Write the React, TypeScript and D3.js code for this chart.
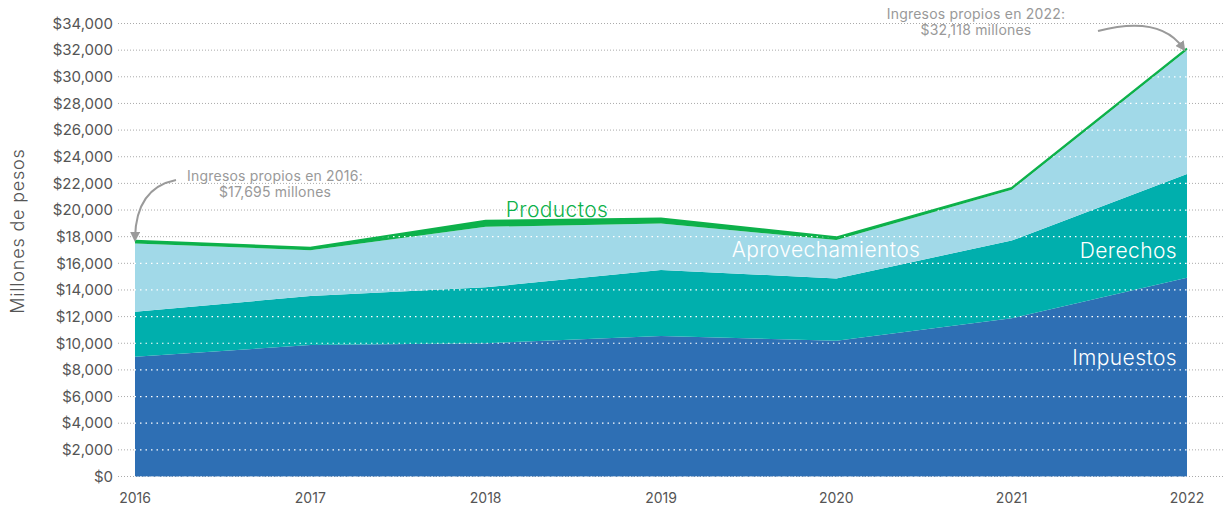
import React from 'react';
import * as d3 from 'd3';

const years = ['2016', '2017', '2018', '2019', '2020', '2021', '2022'];
const impuestos = [8990, 9870, 10000, 10540, 10190, 11870, 14920];
const derechos = [3380, 3675, 4200, 4960, 4680, 5840, 7780];
const aprovechamientos = [5125, 3445, 4540, 3490, 2880, 3820, 9298];
const productos = [200, 180, 450, 380, 200, 120, 120];
const yTicks = d3.range(0, 34001, 2000);

const seriesKeys = ['impuestos', 'derechos', 'aprovechamientos', 'productos'];
const colors: Record<string, string> = {
  impuestos: '#2e6fb4',
  derechos: '#00afad',
  aprovechamientos: '#a1d9e8',
  productos: '#0db14b',
};

const W = 1223;
const H = 508;
const font = 'Inter, "Open Sans", sans-serif';

export default function App() {
  const rows = years.map((y, i) => ({
    year: y,
    impuestos: impuestos[i],
    derechos: derechos[i],
    aprovechamientos: aprovechamientos[i],
    productos: productos[i],
  }));
  const stacked = d3.stack<any>().keys(seriesKeys)(rows);

  const x = d3.scalePoint().domain(years).range([135, 1187]);
  const y = d3.scaleLinear().domain([0, 34000]).range([476.5, 23.5]);

  const area = d3.area<any>()
    .x((d) => x(d.data.year)!)
    .y0((d) => y(d[0]))
    .y1((d) => y(d[1]));

  const totalLine = d3.line<any>()
    .x((d) => x(d.data.year)!)
    .y((d) => y(d[1]));

  const top = stacked[stacked.length - 1];
  const clipArea = d3.area<any>()
    .x((d) => x(d.data.year)!)
    .y0(y(0))
    .y1((d) => y(d[1]))(top);

  const fmt = (v: number) => '$' + d3.format(',')(v);

  const labelStyle = { fontFamily: font, fontSize: 21, fontWeight: 300, letterSpacing: 0.4 };
  const noteStyle = { fontFamily: font, fontSize: 14, fill: '#999', letterSpacing: 0.2 };

  return (
    <svg width={W} height={H} style={{ position: 'absolute', left: 0, top: 0, background: '#fff' }}>
      <defs>
        <clipPath id="areaClip">
          <path d={clipArea || ''} />
        </clipPath>
        <marker id="arrowHead" viewBox="0 0 10 10" refX="6" refY="5" markerWidth="5" markerHeight="5" orient="auto">
          <path d="M0,0 L10,5 L0,10 z" fill="#9a9a9a" />
        </marker>
      </defs>

      {/* gridlines behind */}
      {yTicks.map((t) => (
        <line key={'g' + t} x1={118} x2={W} y1={y(t)} y2={y(t)}
          stroke="#aaa" strokeWidth={1} strokeDasharray="1,2" />
      ))}

      {/* stacked areas */}
      {stacked.map((s) => (
        <path key={s.key} d={area(s) || ''} fill={colors[s.key]} />
      ))}

      {/* white gridlines over the areas */}
      <g clipPath="url(#areaClip)">
        {yTicks.map((t) => (
          <line key={'w' + t} x1={118} x2={W} y1={y(t)} y2={y(t)}
            stroke="#fff" strokeWidth={1.2} strokeDasharray="1.5,4" />
        ))}
      </g>

      <path d={totalLine(top) || ''} fill="none" stroke={colors.productos} strokeWidth={2} />

      {/* y axis labels */}
      {yTicks.map((t) => (
        <text key={'t' + t} x={113} y={y(t)} dy="0.35em" textAnchor="end"
          fontFamily={font} fontSize={15} fill="#555">{fmt(t)}</text>
      ))}
      {/* x axis labels */}
      {years.map((yr) => (
        <text key={'x' + yr} x={x(yr)} y={503} textAnchor="middle"
          fontFamily={font} fontSize={14} fill="#555">{yr}</text>
      ))}
      <text transform={`translate(24,231) rotate(-90)`} textAnchor="middle"
        fontFamily={font} fontSize={18} fontWeight={300} letterSpacing={0.8} fill="#555">Millones de pesos</text>

      {/* series labels */}
      <text x={557} y={217} textAnchor="middle" {...labelStyle} fill={colors.productos}>Productos</text>
      <text x={826} y={257} textAnchor="middle" {...labelStyle} fill="#fff">Aprovechamientos</text>
      <text x={1177} y={258} textAnchor="end" {...labelStyle} fill="#fff">Derechos</text>
      <text x={1177} y={365} textAnchor="end" {...labelStyle} fill="#fff">Impuestos</text>

      {/* annotations */}
      <text x={275} y={181} textAnchor="middle" {...noteStyle}>Ingresos propios en 2016:</text>
      <text x={275} y={197} textAnchor="middle" {...noteStyle}>$17,695 millones</text>
      <path d="M176,180 Q136,188 135,238" fill="none" stroke="#9a9a9a" strokeWidth={2} markerEnd="url(#arrowHead)" />

      <text x={976} y={19} textAnchor="middle" {...noteStyle}>Ingresos propios en 2022:</text>
      <text x={976} y={35} textAnchor="middle" {...noteStyle}>$32,118 millones</text>
      <path d="M1098,31 Q1160,15 1183,48" fill="none" stroke="#9a9a9a" strokeWidth={2} markerEnd="url(#arrowHead)" />
    </svg>
  );
}
